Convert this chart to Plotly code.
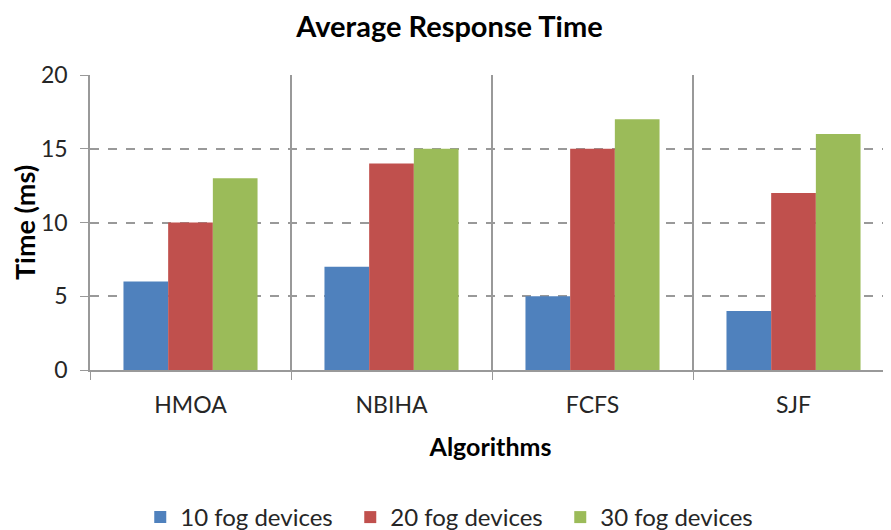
import plotly.graph_objects as go

categories = ["HMOA", "NBIHA", "FCFS", "SJF"]
series_names = ["10 fog devices", "20 fog devices", "30 fog devices"]
values_10 = [6, 7, 5, 4]
values_20 = [10, 14, 15, 12]
values_30 = [13, 15, 17, 16]
colors = ["#4F81BD", "#C0504D", "#9BBB59"]

FONT = "Lato, 'Open Sans', sans-serif"

# the page body has an 8px default margin, so the figure is 8px smaller
W, H = 883, 522

fig = go.Figure()
for name, vals, col in zip(series_names, [values_10, values_20, values_30], colors):
    fig.add_trace(go.Bar(x=categories, y=vals, name=name, marker=dict(color=col, line=dict(width=0))))

fig.update_layout(
    width=W, height=H,
    margin=dict(l=82, r=0, t=67, b=160, autoexpand=False),
    paper_bgcolor="white", plot_bgcolor="white",
    barmode="group", bargap=0.333, bargroupgap=0,
    font=dict(family=FONT, color="#262626", size=22),
    title=dict(text="<b>Average Response Time</b>", x=0.5, xanchor="center",
               y=1 - 19 / H, yanchor="middle", font=dict(size=29, color="#000000")),
    legend=dict(orientation="h", x=0.456, xanchor="center", y=-0.5, yanchor="middle",
                font=dict(size=24, color="#262626"), traceorder="normal",
                itemwidth=30, entrywidth=165),
    showlegend=True,
)

fig.update_xaxes(
    range=[-0.5, 3.485], automargin=False,
    tickson="boundaries", ticks="outside", ticklen=8, tickcolor="#999999",
    ticklabelstandoff=14,
    showgrid=True, gridcolor="#999999", gridwidth=1.5,
    showline=True, linecolor="#999999", linewidth=1.5,
    tickfont=dict(size=23, color="#262626"),
    title=dict(text="<b>Algorithms</b>", standoff=21, font=dict(size=25, color="#000000")),
)
fig.update_yaxes(
    range=[0, 20], dtick=5, tick0=0, automargin=False,
    ticks="outside", ticklen=8, tickcolor="#999999",
    ticklabelstandoff=8,
    showgrid=True, gridcolor="#999999", gridwidth=1.5, griddash="dash",
    showline=True, linecolor="#999999", linewidth=1.5,
    zeroline=False,
    tickfont=dict(size=23, color="#262626"),
    title=dict(text="<b>Time (ms)</b>", standoff=0, font=dict(size=27, color="#000000")),
)

fig.write_html("out.html")
